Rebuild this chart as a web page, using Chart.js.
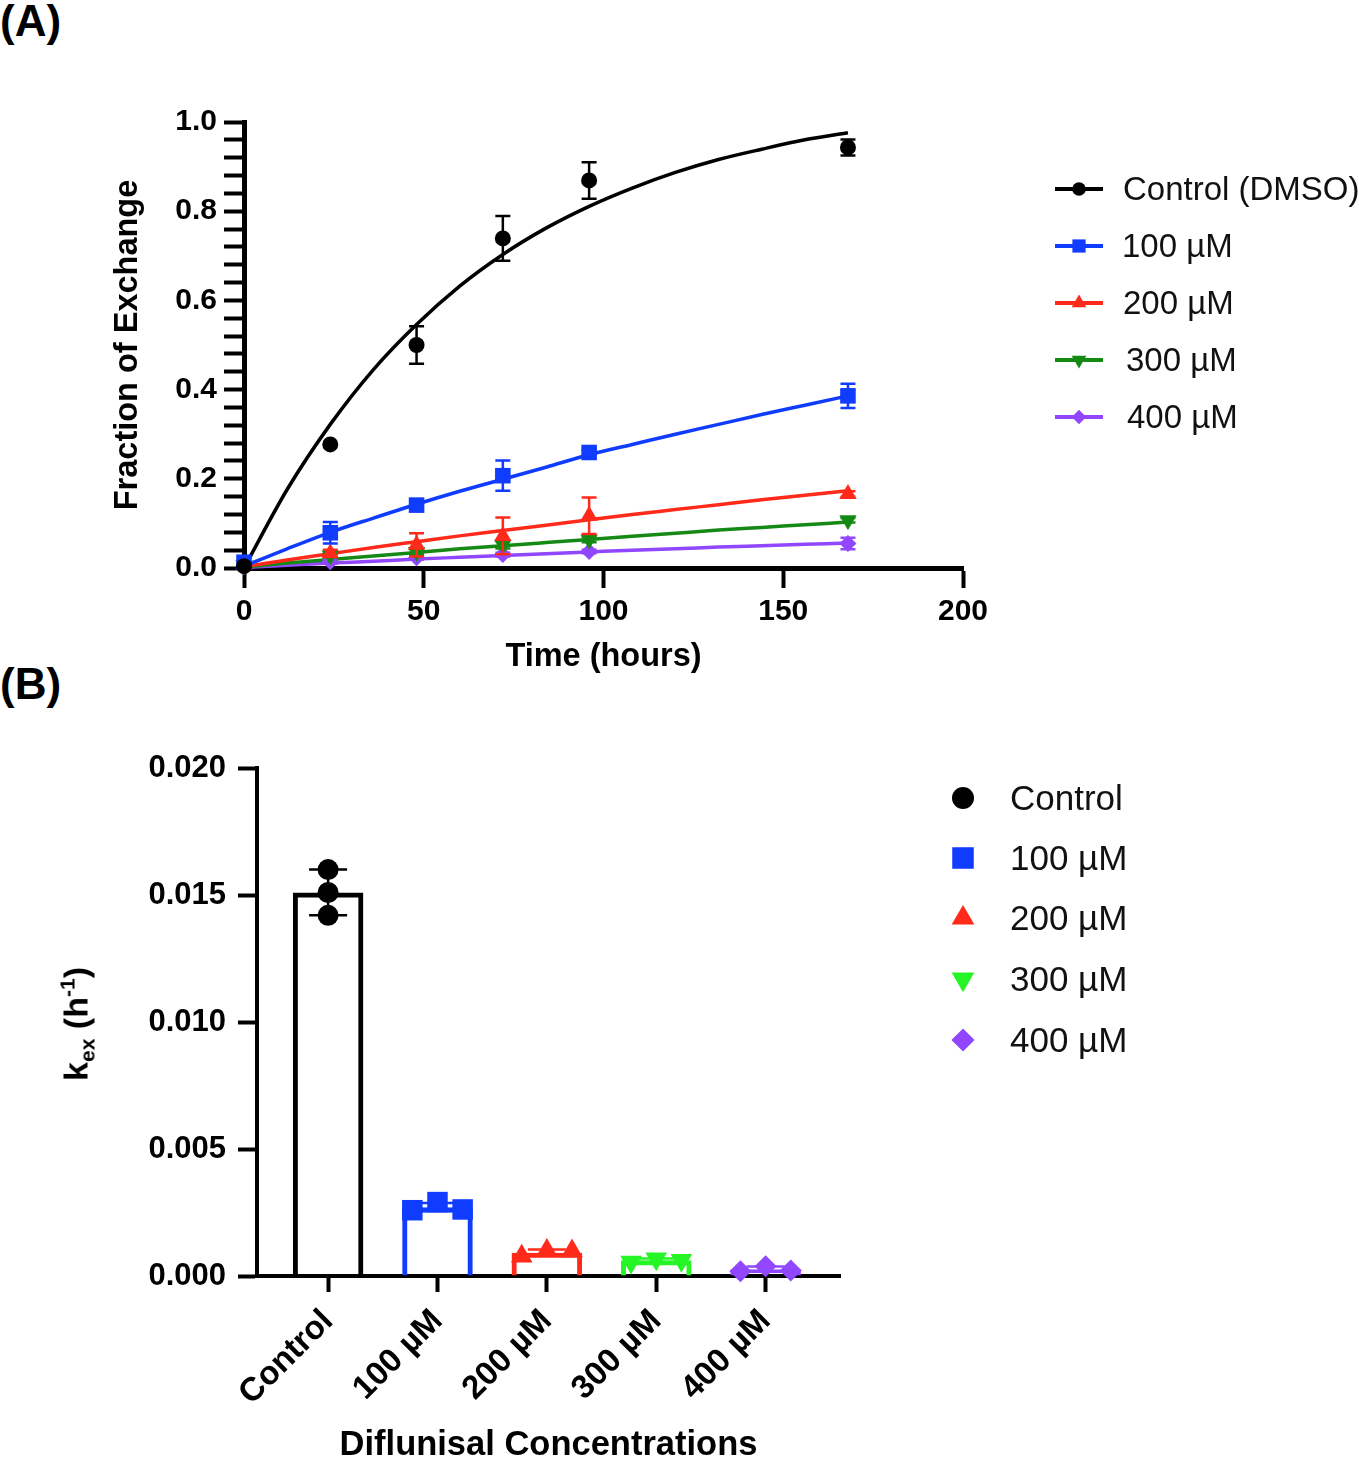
<!DOCTYPE html>
<html><head><meta charset="utf-8">
<script src="https://cdn.jsdelivr.net/npm/chart.js@4.4.1/dist/chart.umd.min.js"></script>
<style>
html,body{margin:0;padding:0;background:#fff;overflow:hidden;}
body{width:1359px;height:1461px;position:relative;font-family:"Liberation Sans",Arial,sans-serif;}
#wrapA{position:absolute;left:0;top:0;width:1359px;height:690px;}
#wrapB{position:absolute;left:0;top:690px;width:1359px;height:771px;}
.panel{position:absolute;left:0;font-weight:bold;font-size:44px;line-height:44px;color:#000;}
.leg{position:absolute;height:40px;display:flex;align-items:center;color:#111;white-space:nowrap;line-height:40px;}
.mk{position:absolute;}
#ytB{position:absolute;left:78px;top:1024px;transform:translate(-50%,-50%) rotate(-90deg);font-weight:bold;font-size:34px;line-height:40px;white-space:nowrap;color:#000;}
#ytB .sb{font-size:0.62em;position:relative;top:0.32em;}
#ytB .sp{font-size:0.62em;position:relative;top:-0.62em;}
</style></head><body>
<div class="panel" style="top:-1px">(A)</div>
<div class="panel" style="top:662px">(B)</div>
<div id="wrapA"><canvas id="chartA" width="1359" height="690"></canvas></div>
<div id="wrapB"><canvas id="chartB" width="1359" height="771"></canvas></div>
<div id="ytB">k<span class="sb">ex</span> (h<span class="sp">-1</span>)</div>
<div id="legends"></div>
<script>
// ---------------- Panel A data ----------------
const timeHours = [0, 24, 48, 72, 96, 168];
const fracControl = [0.004, 0.277, 0.500, 0.739, 0.869, 0.943];
const errControl  = [0.000, 0.000, 0.042, 0.050, 0.041, 0.018];
const frac100 = [0.013, 0.079, 0.141, 0.207, 0.259, 0.386];
const err100  = [0.000, 0.024, 0.006, 0.034, 0.006, 0.027];
const frac200 = [0.008, 0.033, 0.052, 0.072, 0.117, 0.166];
const err200  = [0.000, 0.008, 0.026, 0.041, 0.041, 0.006];
const frac300 = [0.006, 0.028, 0.036, 0.052, 0.064, 0.107];
const err300  = [0.000, 0.004, 0.006, 0.008, 0.006, 0.005];
const frac400 = [0.004, 0.014, 0.023, 0.030, 0.037, 0.055];
const err400  = [0.000, 0.004, 0.004, 0.004, 0.004, 0.013];

// fitted curves
const fitTime = [0, 12, 24, 36, 48, 60, 72, 84, 96, 108, 120, 132, 144, 156, 168];
const fitControl = [0, 0.176, 0.322, 0.445, 0.546, 0.632, 0.703, 0.762, 0.811, 0.852, 0.887, 0.916, 0.939, 0.960, 0.976];
const fit100 = [0.004, 0.043, 0.080, 0.112, 0.143, 0.172, 0.199, 0.226, 0.254, 0.277, 0.300, 0.322, 0.344, 0.365, 0.386];
const fit200 = [0.003, 0.018, 0.032, 0.046, 0.059, 0.072, 0.084, 0.096, 0.108, 0.120, 0.131, 0.142, 0.153, 0.163, 0.173];
const fit300 = [0.002, 0.011, 0.019, 0.027, 0.035, 0.043, 0.050, 0.057, 0.064, 0.071, 0.078, 0.085, 0.091, 0.097, 0.103];
const fit400 = [0.001, 0.006, 0.011, 0.015, 0.020, 0.024, 0.028, 0.032, 0.036, 0.040, 0.043, 0.047, 0.050, 0.053, 0.056];

const legendA = ['Control (DMSO)', '100 µM', '200 µM', '300 µM', '400 µM'];
const xTicksA = [0, 50, 100, 150, 200];
const yLabelStepA = 0.2, yMinorStepA = 0.04;

// ---------------- Panel B data ----------------
const categoriesB = ['Control', '100 µM', '200 µM', '300 µM', '400 µM'];
const kexMean = [0.01510, 0.00271, 0.00092, 0.00062, 0.00027];
const kexSD   = [0.00090, 0.00016, 0.00012, 0.00007, 0.00010];
const repControl = [0.01600, 0.01510, 0.01420];
const rep100 = [0.00259, 0.00291, 0.00262];
const rep200 = [0.00078, 0.00100, 0.00098];
const rep300 = [0.00055, 0.00068, 0.00062];
const rep400 = [0.00019, 0.00038, 0.00022];
const yTicksB = [0, 0.005, 0.010, 0.015, 0.020];

// ---------------- styling ----------------
const FONT = '"Liberation Sans", Arial, sans-serif';
Chart.defaults.font.family = FONT;
Chart.defaults.color = '#000';
const colBlack = '#000000', colBlue = '#0f3cff', colRed = '#ff2a1a', colGreenA = '#148a14', colPurple = '#9146ff', colGreenB = '#25f525';
const colorsA = [colBlack, colBlue, colRed, colGreenA, colPurple];
const colorsB = [colBlack, colBlue, colRed, colGreenB, colPurple];
const stylesA = [['circle', 8, 0], ['rect', 11, 0], ['triangle', 10, 0], ['triangle', 10, 180], ['rectRot', 8.5, 0]];
const stylesB = [['circle', 10.5, 0], ['rect', 14.5, 0], ['triangle', 12.5, 0], ['triangle', 12.5, 180], ['rectRot', 11, 0]];
const jitterB = [[0, 0, 0], [-0.23, 0, 0.23], [-0.23, 0, 0.23], [-0.23, 0, 0.23], [-0.23, 0, 0.23]];

const errorBarPlugin = {
  id: 'errbars',
  afterDatasetDraw(chart, args) {
    const ds = chart.data.datasets[args.index];
    if (!ds.errVals) return;
    const xs = chart.scales.x, ys = chart.scales.y, ctx = chart.ctx;
    ctx.save();
    ctx.lineWidth = ds.errWidth || 2.5;
    ds.data.forEach((p, i) => {
      const e = ds.errVals[i];
      if (!e) return;
      ctx.strokeStyle = Array.isArray(ds.errColor) ? ds.errColor[i] : ds.errColor;
      const x = xs.getPixelForValue(p.x);
      const y1 = ys.getPixelForValue(p.y + e), y2 = ys.getPixelForValue(p.y - e);
      const hw = ds.capHalf || 7;
      ctx.beginPath();
      ctx.moveTo(x, y1); ctx.lineTo(x, y2);
      ctx.moveTo(x - hw, y1); ctx.lineTo(x + hw, y1);
      ctx.moveTo(x - hw, y2); ctx.lineTo(x + hw, y2);
      ctx.stroke();
    });
    ctx.restore();
  }
};

// ---------------- Chart A ----------------
const pointsA = [fracControl, frac100, frac200, frac300, frac400];
const errsA = [errControl, err100, err200, err300, err400];
const fitsA = [fitControl, fit100, fit200, fit300, fit400];
const dsA = [];
pointsA.forEach((arr, k) => {
  dsA.push({
    type: 'scatter', label: legendA[k],
    data: timeHours.map((t, i) => ({x: t, y: arr[i]})),
    errVals: errsA[k], errColor: colorsA[k], capHalf: 7.5, errWidth: 2.5,
    pointStyle: stylesA[k][0], pointRadius: stylesA[k][1], pointRotation: stylesA[k][2],
    backgroundColor: colorsA[k], borderColor: colorsA[k], pointBorderWidth: 0,
    showLine: false, order: 0, clip: false
  });
});
fitsA.forEach((arr, k) => {
  dsA.push({
    type: 'line', label: legendA[k] + ' fit',
    data: fitTime.map((t, i) => ({x: t, y: arr[i]})),
    borderColor: colorsA[k], borderWidth: 3.5, pointRadius: 0, fill: false,
    cubicInterpolationMode: 'monotone', order: 1, clip: false
  });
});

new Chart(document.getElementById('chartA'), {
  type: 'scatter',
  data: {datasets: dsA},
  plugins: [errorBarPlugin],
  options: {
    responsive: false, animation: false, events: [],
    layout: {padding: {left: 90, top: 122, right: 396, bottom: 2}},
    plugins: {legend: {display: false}, tooltip: {enabled: false}},
    scales: {
      x: {
        type: 'linear', min: 0, max: 200, position: 'bottom',
        afterBuildTicks: s => { s.ticks = xTicksA.map(v => ({value: v})); },
        afterFit: s => { s.height = 120; },
        ticks: {font: {size: 30, weight: 'bold'}, color: '#000', padding: 6, maxRotation: 0, autoSkip: false},
        grid: {drawOnChartArea: false, drawTicks: true, tickLength: 20, tickWidth: 4, tickColor: '#000'},
        border: {display: true, width: 5, color: '#000'},
        title: {display: true, text: 'Time (hours)', color: '#000', font: {size: 32.5, weight: 'bold'}, padding: {top: 0, bottom: 11}}
      },
      y: {
        type: 'linear', min: 0, max: 1,
        afterBuildTicks: s => { const t = []; for (let i = 0; i <= 25; i++) t.push({value: +(i * yMinorStepA).toFixed(4)}); s.ticks = t; },
        afterFit: s => { s.width = 154; },
        ticks: {font: {size: 30, weight: 'bold'}, color: '#000', padding: 7, autoSkip: false,
          callback: v => { const q = v / yLabelStepA; return Math.abs(q - Math.round(q)) < 1e-6 ? v.toFixed(1) : ''; }},
        grid: {drawOnChartArea: false, drawTicks: true, tickLength: 20, tickWidth: 4, tickColor: '#000'},
        border: {display: true, width: 5, color: '#000'},
        title: {display: true, text: 'Fraction of Exchange', color: '#000', font: {size: 32.5, weight: 'bold'}, padding: {top: 18.5, bottom: 0}}
      }
    }
  }
});

// ---------------- Chart B ----------------
const repsB = [repControl, rep100, rep200, rep300, rep400];
const dsB = [{
  type: 'bar', label: 'mean',
  data: kexMean.map((v, i) => ({x: i, y: v})),
  backgroundColor: 'rgba(255,255,255,0)', borderColor: colorsB, borderWidth: 5, borderSkipped: 'start',
  barPercentage: 0.645, categoryPercentage: 1,
  errVals: kexSD, errColor: colorsB, capHalf: 19, errWidth: 2.5, order: 2
}];
repsB.forEach((arr, k) => {
  dsB.push({
    type: 'scatter', label: categoriesB[k],
    data: arr.map((v, j) => ({x: k + jitterB[k][j], y: v})),
    pointStyle: stylesB[k][0], pointRadius: stylesB[k][1], pointRotation: stylesB[k][2],
    backgroundColor: colorsB[k], borderColor: colorsB[k], pointBorderWidth: 0,
    showLine: false, order: 0, clip: false
  });
});

new Chart(document.getElementById('chartB'), {
  type: 'bar',
  data: {datasets: dsB},
  plugins: [errorBarPlugin],
  options: {
    responsive: false, animation: false, events: [],
    layout: {padding: {left: 40, top: 78, right: 519, bottom: 0}},
    plugins: {legend: {display: false}, tooltip: {enabled: false}},
    scales: {
      x: {
        type: 'linear', min: -0.65, max: 4.68, offset: false, position: 'bottom',
        afterBuildTicks: s => { s.ticks = categoriesB.map((c, i) => ({value: i})); },
        afterFit: s => { s.height = 185; },
        ticks: {font: {size: 33, weight: 'bold'}, color: '#000', padding: 10, minRotation: 45, maxRotation: 45, autoSkip: false,
          callback: v => categoriesB[v] !== undefined ? categoriesB[v] : ''},
        grid: {drawOnChartArea: false, drawTicks: true, tickLength: 16, tickWidth: 4, tickColor: '#000', offset: false},
        border: {display: true, width: 4, color: '#000'},
        title: {display: true, text: 'Diflunisal Concentrations', color: '#000', font: {size: 34.5, weight: 'bold', lineHeight: 0.8}, padding: {top: 0, bottom: 1.4}}
      },
      y: {
        type: 'linear', min: 0, max: 0.02,
        afterBuildTicks: s => { s.ticks = yTicksB.map(v => ({value: v})); },
        afterFit: s => { s.width = 217; },
        ticks: {font: {size: 31, weight: 'bold'}, color: '#000', padding: 12, autoSkip: false, callback: v => v.toFixed(3)},
        grid: {drawOnChartArea: false, drawTicks: true, tickLength: 19, tickWidth: 4, tickColor: '#000'},
        border: {display: true, width: 4, color: '#000'}
      }
    }
  }
});

// ---------------- Legends (HTML text + drawn symbols) ----------------
function drawMarker(ctx, style, x, y, r, color, rot) {
  ctx.fillStyle = color;
  ctx.beginPath();
  if (style === 'circle') {
    ctx.arc(x, y, r, 0, Math.PI * 2);
  } else if (style === 'rect') {
    const s = r * Math.SQRT1_2; ctx.rect(x - s, y - s, 2 * s, 2 * s);
  } else if (style === 'rectRot') {
    ctx.moveTo(x, y - r); ctx.lineTo(x + r, y); ctx.lineTo(x, y + r); ctx.lineTo(x - r, y); ctx.closePath();
  } else if (style === 'triangle') {
    let a = (rot || 0) * Math.PI / 180;
    for (let k = 0; k < 3; k++) {
      const px = x + Math.sin(a) * r, py = y - Math.cos(a) * r;
      if (k === 0) ctx.moveTo(px, py); else ctx.lineTo(px, py);
      a += 2 * Math.PI / 3;
    }
    ctx.closePath();
  }
  ctx.fill();
}
const legHost = document.getElementById('legends');
const rowsA = [189, 246, 303, 360, 417];
const textXA = [1123, 1122, 1123, 1126, 1127];
legendA.forEach((txt, k) => {
  const c = document.createElement('canvas');
  c.width = 52; c.height = 24; c.className = 'mk';
  c.style.left = '1053px'; c.style.top = (rowsA[k] - 12) + 'px';
  const ctx = c.getContext('2d');
  ctx.strokeStyle = colorsA[k]; ctx.lineWidth = 4;
  ctx.beginPath(); ctx.moveTo(2, 12); ctx.lineTo(50, 12); ctx.stroke();
  drawMarker(ctx, stylesA[k][0], 26, 12, stylesA[k][1] * 0.85, colorsA[k], stylesA[k][2]);
  legHost.appendChild(c);
  const d = document.createElement('div');
  d.className = 'leg'; d.style.left = textXA[k] + 'px'; d.style.top = (rowsA[k] - 20) + 'px'; d.style.fontSize = '33px';
  d.textContent = txt;
  legHost.appendChild(d);
});
const rowsB = [798, 858, 918, 979, 1040];
categoriesB.forEach((txt, k) => {
  const c = document.createElement('canvas');
  c.width = 36; c.height = 36; c.className = 'mk';
  c.style.left = (963 - 18) + 'px'; c.style.top = (rowsB[k] - 18) + 'px';
  const ctx = c.getContext('2d');
  drawMarker(ctx, stylesB[k][0], 18, 18, stylesB[k][1] * 1.05, colorsB[k], stylesB[k][2]);
  legHost.appendChild(c);
  const d = document.createElement('div');
  d.className = 'leg'; d.style.left = '1010px'; d.style.top = (rowsB[k] - 20) + 'px'; d.style.fontSize = '35px';
  d.textContent = txt;
  legHost.appendChild(d);
});
</script>
</body></html>
